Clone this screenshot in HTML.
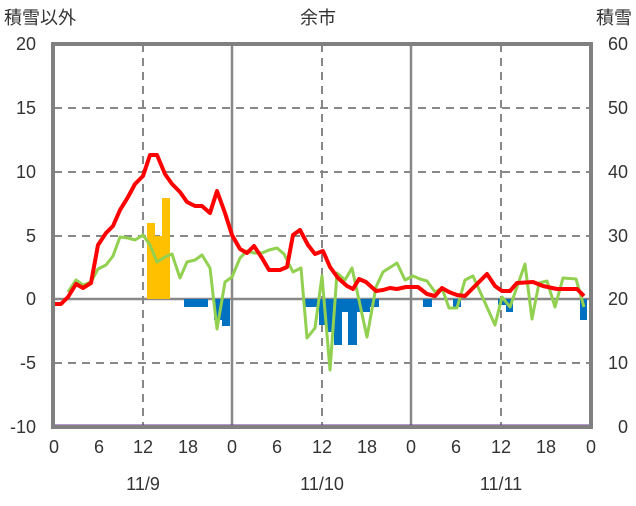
<!DOCTYPE html><html><head><meta charset="utf-8"><style>body{margin:0;background:#fff}svg text{font-family:"Liberation Sans","Noto Sans CJK JP",sans-serif;fill:#333;font-size:18px}</style></head><body>
<svg width="636" height="501" xmlns="http://www.w3.org/2000/svg">
<g stroke="#888" stroke-width="2" stroke-dasharray="8,6">
<line x1="54" y1="108" x2="591" y2="108"/><line x1="54" y1="172" x2="591" y2="172"/><line x1="54" y1="236" x2="591" y2="236"/><line x1="54" y1="363" x2="591" y2="363"/>
<line x1="143" y1="44" x2="143" y2="427"/><line x1="322" y1="44" x2="322" y2="427"/><line x1="501" y1="44" x2="501" y2="427"/>
</g>
<g stroke="#888" stroke-width="2.5"><line x1="232" y1="44" x2="232" y2="427"/><line x1="411" y1="44" x2="411" y2="427"/><line x1="54" y1="299" x2="591" y2="299"/></g>
<g fill="#FFC000"><rect x="147" y="223" width="8" height="76"/><rect x="155" y="236" width="7" height="63"/><rect x="162" y="198" width="8" height="101"/></g>
<g fill="#0070C0"><rect x="184" y="299" width="24" height="8"/><rect x="214" y="299" width="8" height="21"/><rect x="222" y="299" width="8" height="27"/>
<rect x="305" y="299" width="14" height="8"/><rect x="319" y="299" width="8" height="26"/><rect x="327" y="299" width="7" height="33"/><rect x="334" y="299" width="8" height="46"/><rect x="342" y="299" width="6" height="13"/><rect x="348" y="299" width="9" height="46"/><rect x="357" y="299" width="13" height="13"/><rect x="370" y="299" width="9" height="8"/><rect x="423" y="299" width="9" height="8"/><rect x="453" y="299" width="8" height="8"/><rect x="498" y="299" width="8" height="6"/><rect x="506" y="299" width="7" height="13"/><rect x="580" y="299" width="7" height="21"/></g>
<polyline fill="none" stroke="#92D050" stroke-width="3" stroke-linejoin="round" points="68,292 76,280 83,285 91,282 98,269 106,265 113,256 120,237 128,238 135,240 143,235 150,245 157,262 165,257 172,254 180,278 187,262 195,260 202,255 210,268 217,329 225,282 232,277 240,258 247,251 254,253 262,253 269,250 277,248 284,254 293,272 301,268 307,338 315,328 322,276 330,370 337,273 345,280 352,268 367,337 376,287 383,272 397,263 405,280 413,276 420,279 427,281 435,292 442,288 449,308 457,308 465,280 473,276 495,325 502,297 510,307 525,264 532,319 539,283 547,281 555,307 563,278 576,279 584,307"/>
<polyline fill="none" stroke="#FF0000" stroke-width="4" stroke-linejoin="round" points="54,304 61,304 68,297 76,284 83,288 91,283 98,245 106,233 113,226 120,210 128,197 135,184 143,176 150,155 157,155 165,174 172,184 180,192 187,202 195,206 202,206 210,213 217,191 225,213 232,235 240,249 247,253 254,246 262,258 269,270 280,270 287,267 293,235 300,230 308,245 315,254 323,251 330,267 338,278 347,286 353,289 359,279 366,282 376,291 383,290 390,288 397,289 406,287 418,287 427,294 435,296 442,288 449,292 457,295 465,296 473,288 487,274 495,286 502,291 510,291 517,283 533,282 543,286 557,289 577,289 584,296"/>
<line x1="54" y1="426" x2="589" y2="426" stroke="#7030A0" stroke-width="3"/>
<rect x="53" y="44" width="538" height="383" fill="none" stroke="#808080" stroke-width="4"/>
<g text-anchor="end"><text x="36" y="50">20</text><text x="36" y="114">15</text><text x="36" y="178">10</text><text x="36" y="242">5</text><text x="36" y="305">0</text><text x="36" y="369">-5</text><text x="36" y="433">-10</text></g>
<g text-anchor="end"><text x="628" y="50">60</text><text x="628" y="114">50</text><text x="628" y="178">40</text><text x="628" y="242">30</text><text x="628" y="305">20</text><text x="628" y="369">10</text><text x="628" y="433">0</text></g>
<g text-anchor="middle"><text x="54" y="453">0</text><text x="99" y="453">6</text><text x="143" y="453">12</text><text x="188" y="453">18</text><text x="232" y="453">0</text><text x="277" y="453">6</text><text x="322" y="453">12</text><text x="367" y="453">18</text><text x="411" y="453">0</text><text x="456" y="453">6</text><text x="501" y="453">12</text><text x="546" y="453">18</text><text x="591" y="453">0</text>
<text x="143" y="490">11/9</text><text x="322" y="490">11/10</text><text x="501" y="490">11/11</text><text x="318" y="24">余市</text></g>
<text x="4" y="24">積雪以外</text><text x="632" y="24" text-anchor="end">積雪</text>
</svg></body></html>
